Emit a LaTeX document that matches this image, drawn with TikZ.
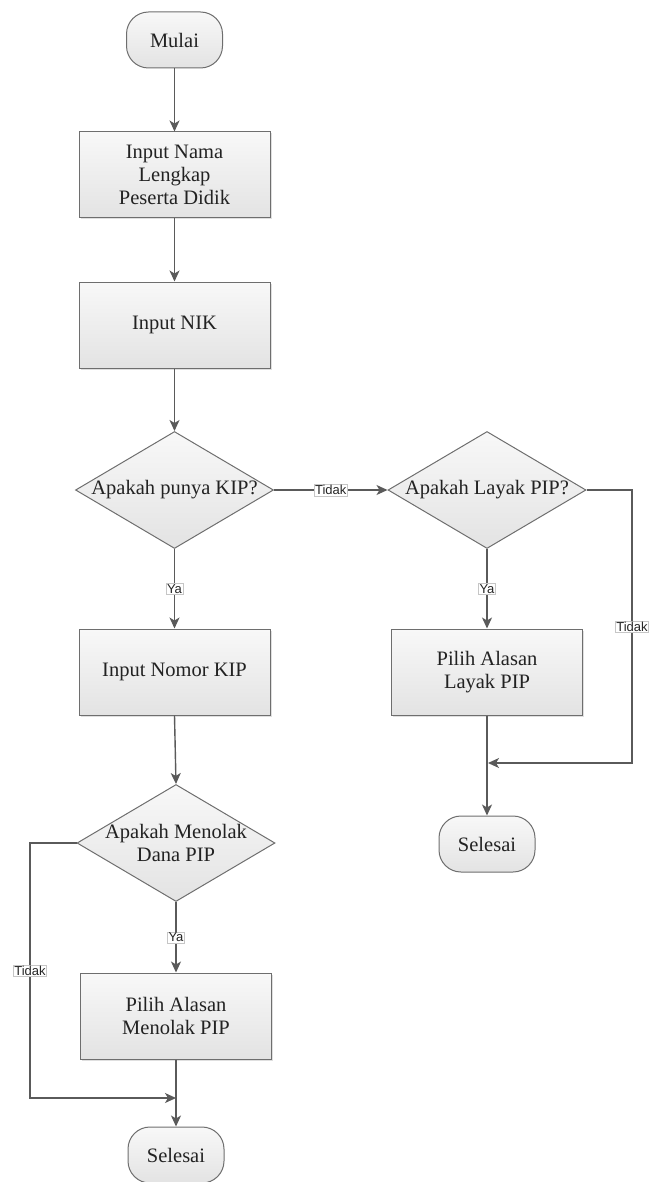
\documentclass[tikz,border=0pt]{standalone}
\usepackage{fontspec}
\setmainfont{Liberation Serif}
\newfontfamily\lblfont{Liberation Sans}
\usetikzlibrary{shapes.geometric,arrows.meta,shadows}
\definecolor{linec}{HTML}{5A5A5A}
\definecolor{bordc}{HTML}{6E6E6E}
\definecolor{boxtop}{HTML}{F8F8F8}
\definecolor{boxbot}{HTML}{E3E3E3}
\definecolor{txtc}{HTML}{222222}
\tikzset{
  base/.style={draw=bordc, line width=1pt, top color=boxtop, bottom color=boxbot,
    text=txtc, font=\fontsize{20.5}{23}\selectfont, align=center, inner sep=0pt},
  procbox/.style={base, rectangle, minimum width=191pt, minimum height=86pt,
    drop shadow={shadow xshift=1.5pt, shadow yshift=-1.5pt, opacity=0.25}},
  termbox/.style={base, rectangle, rounded corners=22pt, minimum width=96pt, minimum height=56pt},
  decbox/.style={base, diamond, shape aspect=1.7, minimum width=198pt, minimum height=117pt},
  arr/.style={draw=linec, line width=1.4pt, -{Stealth[length=11pt,width=10pt,inset=3pt]}},
  lbl/.style={font=\lblfont\fontsize{13}{13}\selectfont, fill=white, draw=gray!45,
    line width=0.4pt, inner sep=1pt, text=black!85}
}
\begin{document}
\begin{tikzpicture}[x=1pt,y=-1pt]
\useasboundingbox (0,0) rectangle (651,1182);
% left column
\node[termbox] (start) at (174.5,40) {Mulai};
\node[procbox] (nama) at (174.5,175) {Input Nama\\Lengkap\\Peserta Didik};
\node[procbox] (nik) at (174.5,325) {Input NIK};
\node[decbox] (kip) at (174.5,490) {Apakah punya KIP?};
\node[procbox] (nomor) at (174.5,672) {Input Nomor KIP};
\node[decbox, inner sep=-6pt] (tolak) at (176,843) {Apakah Menolak\\Dana PIP};
\node[procbox] (alasantolak) at (176,1016) {Pilih Alasan\\Menolak PIP};
\node[termbox] (end1) at (176,1155) {Selesai};
% right column
\node[decbox] (layak) at (487,490) {Apakah Layak PIP?};
\node[procbox] (alasanlayak) at (487,672) {Pilih Alasan\\Layak PIP};
\node[termbox] (end2) at (487,844) {Selesai};
% helper coordinates
\coordinate (j1) at (176,1098);
\coordinate (lc) at (30,1098);
\coordinate (j2) at (488,763);
\coordinate (rc) at (632,763);
% connectors
\draw[arr] (start) -- (nama);
\draw[arr] (nama) -- (nik);
\draw[arr] (nik) -- (kip);
\draw[arr] (kip.east) -- node[lbl]{Tidak} (layak.west);
\draw[arr] (kip.south) -- node[lbl]{Ya} (nomor.north);
\draw[arr] (nomor.south) -- (tolak.north);
\draw[arr] (tolak.south) -- node[lbl]{Ya} (alasantolak.north);
\draw[arr] (tolak.west) -| node[lbl,pos=0.75]{Tidak} (lc) -- (j1);
\draw[arr] (alasantolak.south) -- (end1.north);
\draw[arr] (layak.south) -- node[lbl]{Ya} (alasanlayak.north);
\draw[arr] (layak.east) -| node[lbl,pos=0.75]{Tidak} (rc) -- (j2);
\draw[arr] (alasanlayak.south) -- (end2.north);
\end{tikzpicture}
\end{document}
